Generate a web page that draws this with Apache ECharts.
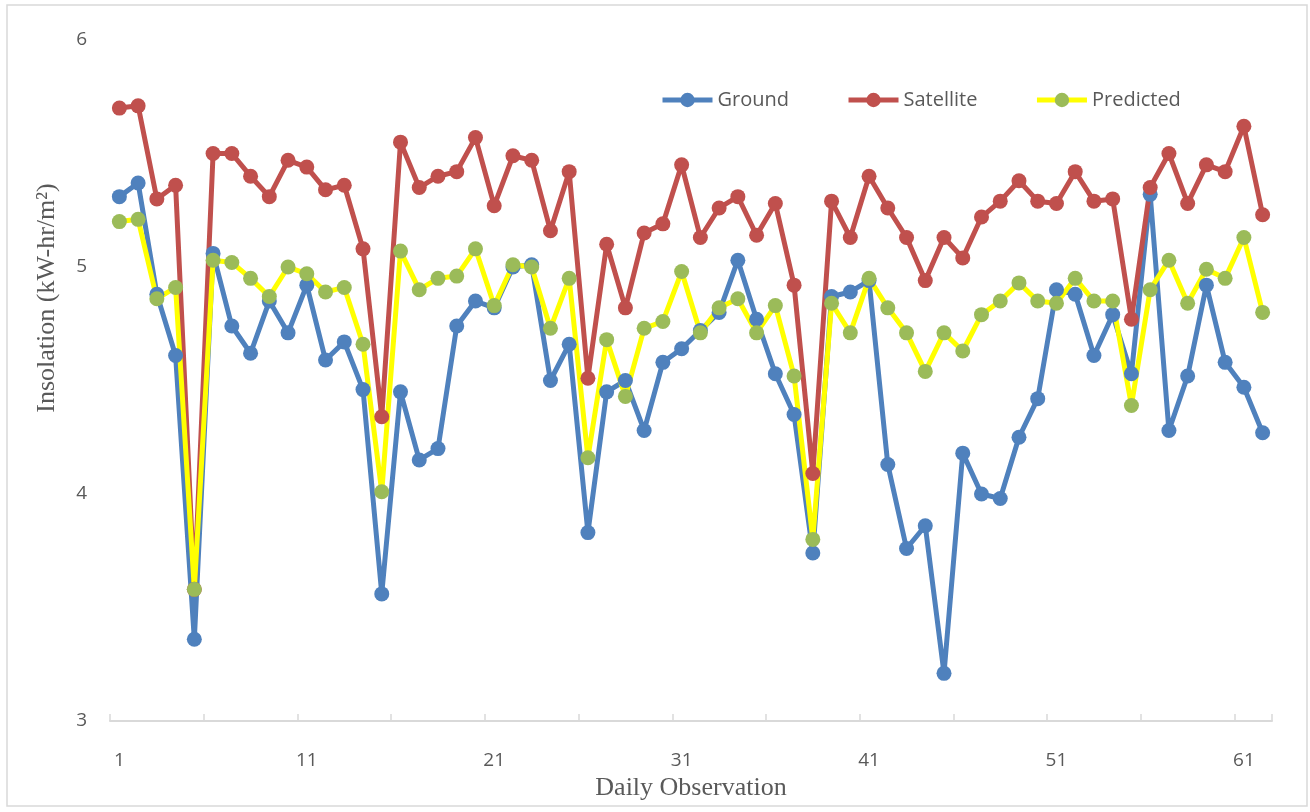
<!DOCTYPE html>
<html>
<head>
<meta charset="utf-8">
<script src="https://cdn.jsdelivr.net/npm/echarts@6/dist/echarts.min.js"></script>
<style>
  html, body { margin: 0; padding: 0; background: #ffffff; }
  #chart { width: 1310px; height: 812px; }
</style>
</head>
<body>
<div id="chart"></div>
<script>
const categories = [];
for (let i = 1; i <= 62; i++) categories.push(String(i));

const ground = [5.31, 5.37, 4.88, 4.61, 3.36, 5.06, 4.74, 4.62, 4.85, 4.71,
                4.92, 4.59, 4.67, 4.46, 3.56, 4.45, 4.15, 4.20, 4.74, 4.85,
                4.82, 5.00, 5.01, 4.50, 4.66, 3.83, 4.45, 4.50, 4.28, 4.58,
                4.64, 4.72, 4.80, 5.03, 4.77, 4.53, 4.35, 3.74, 4.87, 4.89,
                4.94, 4.13, 3.76, 3.86, 3.21, 4.18, 4.00, 3.98, 4.25, 4.42,
                4.90, 4.88, 4.61, 4.79, 4.53, 5.32, 4.28, 4.52, 4.92, 4.58,
                4.47, 4.27];

const satellite = [5.70, 5.71, 5.30, 5.36, 3.58, 5.50, 5.50, 5.40, 5.31, 5.47,
                   5.44, 5.34, 5.36, 5.08, 4.34, 5.55, 5.35, 5.40, 5.42, 5.57,
                   5.27, 5.49, 5.47, 5.16, 5.42, 4.51, 5.10, 4.82, 5.15, 5.19,
                   5.45, 5.13, 5.26, 5.31, 5.14, 5.28, 4.92, 4.09, 5.29, 5.13,
                   5.40, 5.26, 5.13, 4.94, 5.13, 5.04, 5.22, 5.29, 5.38, 5.29,
                   5.28, 5.42, 5.29, 5.30, 4.77, 5.35, 5.50, 5.28, 5.45, 5.42,
                   5.62, 5.23];

const predicted = [5.20, 5.21, 4.86, 4.91, 3.58, 5.03, 5.02, 4.95, 4.87, 5.00,
                   4.97, 4.89, 4.91, 4.66, 4.01, 5.07, 4.90, 4.95, 4.96, 5.08,
                   4.83, 5.01, 5.00, 4.73, 4.95, 4.16, 4.68, 4.43, 4.73, 4.76,
                   4.98, 4.71, 4.82, 4.86, 4.71, 4.83, 4.52, 3.80, 4.84, 4.71,
                   4.95, 4.82, 4.71, 4.54, 4.71, 4.63, 4.79, 4.85, 4.93, 4.85,
                   4.84, 4.95, 4.85, 4.85, 4.39, 4.90, 5.03, 4.84, 4.99, 4.95,
                   5.13, 4.80];

const yTicks = [3, 4, 5, 6];

const textColor = '#595959';
const sansFont = '"Open Sans", "Noto Sans", sans-serif';
const serifFont = '"Liberation Serif", "DejaVu Serif", serif';

const chart = echarts.init(document.getElementById('chart'), null, { renderer: 'canvas' });

function lineSeries(name, data, lineColor, markerColor) {
  return {
    name: name,
    type: 'line',
    data: data,
    symbol: 'circle',
    symbolSize: 15,
    showAllSymbol: true,
    lineStyle: { color: lineColor, width: 5 },
    itemStyle: { color: markerColor, borderWidth: 0 },
    emphasis: { disabled: true },
    animation: false
  };
}

chart.setOption({
  backgroundColor: '#ffffff',
  animation: false,
  grid: { left: 110, right: 38, top: 40, bottom: 91, containLabel: false },
  legend: {
    left: 655,
    top: 85,
    itemWidth: 50,
    itemHeight: 18,
    itemGap: 57,
    lineStyle: { width: 5 },
    textStyle: { color: textColor, fontSize: 20, fontFamily: sansFont, padding: [0, 0, 0, 0] },
    data: ['Ground', 'Satellite', 'Predicted']
  },
  xAxis: {
    type: 'category',
    data: categories,
    boundaryGap: true,
    axisLine: { show: true, lineStyle: { color: '#d9d9d9', width: 2 } },
    axisTick: { show: true, inside: true, length: 7, interval: 4, lineStyle: { color: '#d9d9d9', width: 1.5 } },
    axisLabel: { interval: 9, color: textColor, fontSize: 19, fontFamily: sansFont, margin: 30 },
    splitLine: { show: false },
    name: 'Daily Observation',
    nameLocation: 'middle',
    nameGap: 48,
    nameTextStyle: { color: textColor, fontSize: 26, fontFamily: serifFont }
  },
  yAxis: {
    type: 'value',
    min: yTicks[0],
    max: yTicks[yTicks.length - 1],
    interval: 1,
    axisLine: { show: false },
    axisTick: { show: false },
    splitLine: { show: false },
    axisLabel: { color: textColor, fontSize: 19, fontFamily: sansFont, margin: 23 }
  },
  graphic: [
    {
      type: 'rect',
      shape: { x: 7, y: 5, width: 1300, height: 801 },
      style: { fill: 'none', stroke: '#d9d9d9', lineWidth: 1.5 },
      silent: true,
      z: -10
    },
    {
      type: 'text',
      x: 47,
      y: 298,
      rotation: Math.PI / 2,
      style: {
        text: 'Insolation (kW-hr/m²)',
        fill: textColor,
        font: '26px ' + serifFont,
        align: 'center',
        verticalAlign: 'middle'
      },
      silent: true
    }
  ],
  series: [
    lineSeries('Ground', ground, '#4F81BD', '#4F81BD'),
    lineSeries('Satellite', satellite, '#C0504D', '#C0504D'),
    lineSeries('Predicted', predicted, '#FFFF00', '#9BBB59')
  ]
});
</script>
</body>
</html>
